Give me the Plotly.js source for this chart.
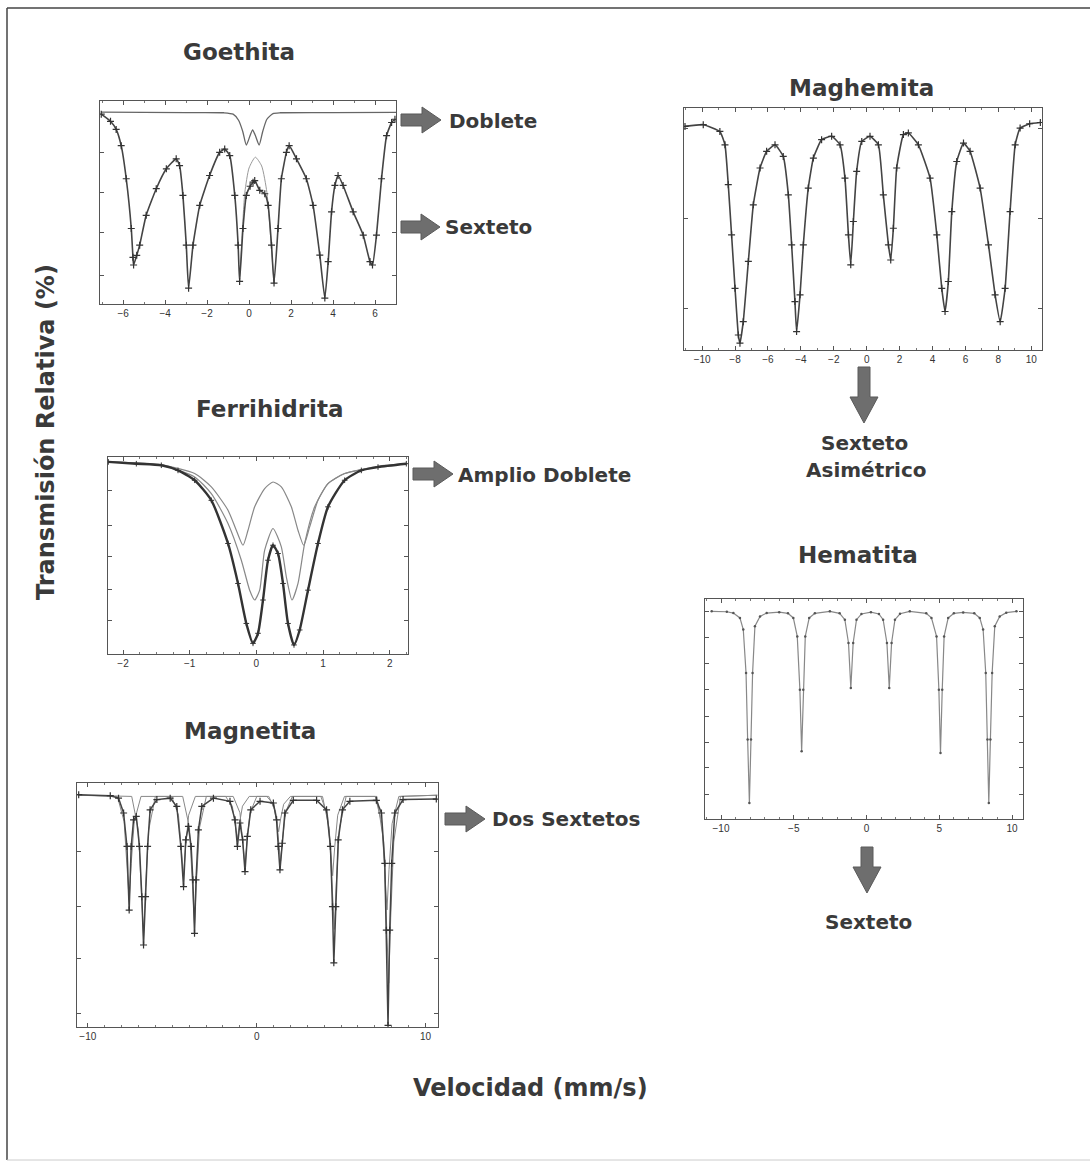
<!DOCTYPE html>
<html>
<head>
<meta charset="utf-8">
<script src="https://cdn.plot.ly/plotly-3.0.1.min.js"></script>
<style>html,body{margin:0;padding:0;background:#fff;}#chart{width:1090px;height:1165px;}</style>
</head>
<body>
<div id="chart"></div>
<script>
// ---------------- DATA (velocity mm/s, relative transmission in plot units) ----------------
// Goethita
const goeDobleteV = [-7.05, -3, -1.2, -0.76, -0.5, -0.3, -0.13, 0.05, 0.17, 0.3, 0.48, 0.65, 0.85, 1.14, 1.5, 4, 7.0];
const goeDobleteT = [94.5, 94.3, 94.2, 93.5, 90.5, 85, 78.3, 83, 85.8, 83, 78.3, 85, 91, 93.8, 94.2, 94.3, 94.4];
const goeSextetoV = [-7.04, -6.6, -6.33, -6.09, -5.85, -5.61, -5.53, -5.5, -5.35, -5.21, -4.9, -4.42, -3.94, -3.47, -3.31, -3.15, -2.99, -2.88, -2.67, -2.35, -1.88, -1.4, -1.16, -0.92, -0.68, -0.52, -0.45, -0.29, -0.13, 0.05, 0.19, 0.27, 0.51, 0.75, 0.91, 1.07, 1.19, 1.38, 1.54, 1.78, 1.91, 2.26, 2.73, 3.05, 3.37, 3.61, 3.77, 3.93, 4.09, 4.24, 4.48, 4.96, 5.44, 5.76, 5.88, 6.07, 6.31, 6.55, 6.79, 6.95];
const goeSextetoT = [93.5, 90, 86, 78, 61.7, 37.2, 23, 19.2, 24, 29, 43.7, 56.8, 66.6, 71.5, 68.2, 53.5, 29, 7.8, 29, 48.6, 63.3, 74.7, 76.3, 73.1, 53.5, 29, 11.1, 37.2, 53.5, 58, 60, 60.8, 56, 54.3, 48.6, 29, 10.3, 37.2, 61.7, 74.7, 78, 71.5, 61.7, 48.6, 24.1, 2.9, 20.9, 45.4, 58.4, 63.3, 58.4, 45.4, 33.9, 20.9, 19.2, 33.9, 61.7, 82.9, 89.4, 91];
const goeAjusteV = [-0.45, -0.35, -0.2, 0.0, 0.3, 0.6, 0.85, 1.05, 1.19];
const goeAjusteT = [11.1, 30, 55, 67, 72.3, 68, 55, 30, 10.3];

// Maghemita
const mghV = [-11.04, -9.93, -8.92, -8.61, -8.41, -8.21, -8.0, -7.8, -7.7, -7.5, -7.19, -6.89, -6.48, -6.08, -5.57, -5.07, -4.76, -4.56, -4.36, -4.26, -4.05, -3.85, -3.55, -3.24, -2.74, -2.13, -1.62, -1.32, -1.11, -0.97, -0.81, -0.61, -0.3, 0.2, 0.71, 1.01, 1.32, 1.46, 1.62, 1.82, 2.23, 2.53, 3.14, 3.85, 4.26, 4.56, 4.76, 4.96, 5.17, 5.47, 5.88, 6.28, 6.89, 7.4, 7.8, 8.11, 8.41, 8.71, 9.02, 9.32, 9.9, 10.55];
const mghT = [92.4, 93.1, 90.3, 84.8, 68.3, 47.6, 25.5, 6.2, 2.8, 11.7, 36.6, 60, 75.2, 82.1, 84.8, 80, 64.1, 43.4, 20, 7.6, 22.8, 43.4, 66.9, 79.3, 86.9, 88.3, 84.8, 71, 47.6, 35.2, 53.1, 73.8, 86.2, 88.3, 84.8, 64.1, 43.4, 37.2, 50.3, 75.2, 89, 89.7, 84.8, 71, 47.6, 25.5, 15.9, 28.3, 57.2, 77.9, 85.5, 82.1, 66.9, 43.4, 22.8, 11.7, 25.5, 57.2, 84.8, 91.7, 93.5, 94];

// Ferrihidrita
const ferTotalV = [-2.22, -1.8, -1.425, -1.175, -0.925, -0.675, -0.425, -0.275, -0.15, -0.05, 0.025, 0.1, 0.175, 0.25, 0.325, 0.4, 0.475, 0.565, 0.65, 0.775, 0.925, 1.075, 1.325, 1.575, 1.825, 2.25];
const ferTotalT = [97.5, 96.6, 95.8, 93.2, 88.2, 78, 56.1, 35.8, 15.5, 5.4, 10.5, 27.4, 47.6, 55.2, 51, 35.8, 15.5, 4.6, 12.2, 32.4, 56.1, 74.7, 88.2, 93.2, 94.9, 96.6];
const ferDobleteV = [-2.22, -1.425, -0.925, -0.675, -0.425, -0.225, -0.1, -0.025, 0.05, 0.125, 0.25, 0.375, 0.45, 0.535, 0.625, 0.725, 0.875, 1.075, 1.325, 1.825, 2.25];
const ferDobleteT = [97.5, 95.8, 89.9, 81.4, 66.2, 47.6, 32.4, 27.4, 32.4, 52.7, 63.7, 54.4, 39.2, 27.4, 35.8, 56.1, 74.7, 86.5, 91.6, 95.3, 96.6];
const ferAmplioV = [-2.22, -1.425, -0.925, -0.675, -0.425, -0.3, -0.2, -0.125, -0.025, 0.125, 0.25, 0.375, 0.525, 0.625, 0.71, 0.8, 0.925, 1.075, 1.325, 1.825, 2.25];
const ferAmplioT = [97.5, 96, 91.6, 84.8, 73, 62.8, 55.2, 62.8, 74.7, 84, 87.3, 84.8, 74.7, 62.8, 55.2, 64.5, 78, 86.5, 91.6, 94.9, 96.6];

// Magnetita (total + two sextets)
const mgtTotalV = [-10.54, -8.67, -8.18, -7.88, -7.68, -7.55, -7.43, -7.29, -7.13, -6.94, -6.8, -6.7, -6.58, -6.46, -6.31, -5.91, -5.12, -4.73, -4.49, -4.33, -4.2, -4.04, -3.88, -3.78, -3.68, -3.59, -3.45, -3.25, -2.56, -1.58, -1.28, -1.14, -0.99, -0.83, -0.69, -0.55, -0.35, 0.2, 0.99, 1.18, 1.28, 1.38, 1.52, 1.67, 2.17, 3.55, 4.14, 4.37, 4.49, 4.57, 4.69, 4.83, 5.08, 5.52, 7.09, 7.39, 7.59, 7.68, 7.78, 7.88, 8.0, 8.18, 8.67, 10.64];
const mgtTotalT = [95.2, 94.8, 93.8, 87.7, 74, 47.9, 74, 84.9, 86.3, 74, 53.4, 33.6, 53.4, 74, 89, 93.2, 93.8, 90.4, 74, 57.5, 76.7, 82.2, 74, 60.3, 38.4, 60.3, 80.8, 90.4, 93.8, 92.5, 84.9, 74, 83.6, 76.7, 63.7, 78.1, 89, 92.5, 91.8, 84.9, 74, 64.4, 75.3, 87.7, 92.9, 92.9, 89, 74, 49.3, 26.3, 49.3, 76.7, 89, 92.5, 92.9, 87.7, 67.1, 39.7, 0.7, 39.7, 67.1, 87.7, 93.2, 93.4];
const mgtSexteto1V = [-10.6, -8.25, -7.85, -7.67, -7.55, -7.43, -7.25, -6.85, -5.03, -4.63, -4.45, -4.33, -4.21, -4.03, -3.63, -1.84, -1.44, -1.26, -1.14, -1.02, -0.84, -0.44, 0.6, 1.0, 1.18, 1.3, 1.42, 1.6, 2.0, 3.8, 4.2, 4.38, 4.5, 4.62, 4.8, 5.2, 7.02, 7.42, 7.6, 7.72, 7.84, 8.02, 8.42, 10.7];
const mgtSexteto1T = [95, 94.5, 84.2, 67, 52, 67, 84.2, 94.5, 94.5, 86.8, 73.5, 62, 73.5, 86.8, 94.5, 94.5, 90.5, 83.3, 77, 83.3, 90.5, 94.5, 94.5, 91.3, 85.3, 80, 85.3, 91.3, 94.5, 94.5, 86.8, 73.5, 62, 73.5, 86.8, 94.5, 94.5, 83.3, 64.5, 48, 64.5, 83.3, 94.5, 95];
const mgtSexteto2V = [-10.6, -7.4, -7.0, -6.82, -6.7, -6.58, -6.4, -6.0, -4.38, -3.98, -3.8, -3.68, -3.56, -3.38, -2.98, -1.39, -0.99, -0.81, -0.69, -0.57, -0.39, 0.01, 0.72, 1.12, 1.3, 1.42, 1.54, 1.72, 2.12, 3.9, 4.3, 4.48, 4.6, 4.72, 4.9, 5.3, 7.12, 7.52, 7.7, 7.82, 7.94, 8.12, 8.52, 10.7];
const mgtSexteto2T = [95, 94.5, 80.5, 57.3, 37, 57.3, 80.5, 94.5, 94.5, 81.8, 60.6, 42, 60.6, 81.8, 94.5, 94.5, 87.8, 76.2, 66, 76.2, 87.8, 94.5, 94.5, 88.3, 77.5, 68, 77.5, 88.3, 94.5, 94.5, 81.3, 59.3, 40, 59.3, 81.3, 94.5, 94.5, 75.8, 45, 18, 45, 75.8, 94.5, 95];

// Hematita
const hemV = [-10.64, -9.6, -9.15, -8.7, -8.47, -8.28, -8.17, -8.05, -7.94, -7.83, -7.67, -7.32, -6.86, -6.0, -5.4, -5.03, -4.76, -4.58, -4.46, -4.35, -4.21, -3.94, -3.55, -2.52, -1.85, -1.49, -1.24, -1.08, -0.92, -0.69, -0.35, 0.3, 0.85, 1.14, 1.4, 1.56, 1.72, 1.95, 2.3, 2.97, 4.1, 4.46, 4.81, 4.97, 5.08, 5.2, 5.33, 5.61, 6.0, 6.64, 7.4, 7.78, 8.01, 8.19, 8.31, 8.4, 8.51, 8.63, 8.81, 9.15, 9.6, 10.3];
const hemT = [94.4, 94.2, 93.6, 91.4, 86.1, 66.4, 36.1, 7.3, 36.1, 66.4, 87.6, 92.1, 93.6, 94, 93.5, 91.4, 83, 58.8, 30.8, 58.8, 83, 91.4, 93.5, 94.4, 93.5, 90.6, 80, 59.5, 80, 90.6, 93.2, 94, 93.2, 90.6, 80, 59.5, 80, 90.6, 93.3, 94.4, 93.5, 91.4, 83, 58.8, 30, 58.8, 83, 91.4, 93.5, 93.9, 93.5, 91.4, 86.1, 66.4, 36.1, 7.3, 36.1, 66.4, 87.6, 92.1, 93.8, 94.4];

// Texts
const panelTitles = ["Goethita", "Maghemita", "Ferrihidrita", "Magnetita", "Hematita"];
const sideLabels = ["Doblete", "Sexteto", "Amplio Doblete", "Dos Sextetos", "Sexteto", "Asimétrico", "Sexteto"];
const xAxisLabel = "Velocidad (mm/s)";
const yAxisLabel = "Transmisión Relativa (%)";

// ---------------- LAYOUT HELPERS ----------------
const W = 1090, H = 1165;
const px = x => x / W;
const py = y => 1 - y / H;
const dark = '#333333';
const textCol = '#3a3a3a';
const big = 'DejaVu Sans, Arial, sans-serif';

function xAx(x0, x1, range, dtick, minor, anchor) {
  return {
    domain: [px(x0), px(x1)], range: range, anchor: anchor,
    showline: true, linecolor: '#555', linewidth: 1, mirror: 'ticks',
    ticks: 'inside', ticklen: 4, tickcolor: '#555', tickwidth: 1,
    dtick: dtick, tick0: 0, showgrid: false, zeroline: false,
    minor: {ticks: 'inside', ticklen: 2, dtick: minor, tickcolor: '#777', showgrid: false},
    tickfont: {family: 'Liberation Sans, Arial, sans-serif', size: 10, color: '#333'},
    fixedrange: true
  };
}
function yAx(y0, y1, tickvals, anchor) {
  return {
    domain: [py(y1), py(y0)], range: [0, 100], anchor: anchor,
    showline: true, linecolor: '#555', linewidth: 1, mirror: 'ticks',
    ticks: 'inside', ticklen: 4, tickcolor: '#555', tickvals: tickvals,
    showticklabels: false, showgrid: false, zeroline: false, fixedrange: true
  };
}

const crossMarker = {symbol: 'cross-thin', size: 5, line: {width: 1.2, color: dark}, color: dark};

const traces = [
  // Goethita
  {x: goeDobleteV, y: goeDobleteT, xaxis: 'x', yaxis: 'y', mode: 'lines', line: {color: '#666', width: 1.3, shape: 'spline', smoothing: 0.6}},
  {x: goeAjusteV, y: goeAjusteT, xaxis: 'x', yaxis: 'y', mode: 'lines', line: {color: '#999', width: 1, shape: 'spline', smoothing: 0.6}},
  {x: goeSextetoV, y: goeSextetoT, xaxis: 'x', yaxis: 'y', mode: 'lines+markers', line: {color: '#444', width: 1.6, shape: 'spline', smoothing: 0.45}, marker: crossMarker},
  // Maghemita
  {x: mghV, y: mghT, xaxis: 'x2', yaxis: 'y2', mode: 'lines+markers', line: {color: '#444', width: 1.6, shape: 'spline', smoothing: 0.4}, marker: crossMarker},
  // Ferrihidrita
  {x: ferAmplioV, y: ferAmplioT, xaxis: 'x3', yaxis: 'y3', mode: 'lines', line: {color: '#888', width: 1.2, shape: 'spline', smoothing: 0.6}},
  {x: ferDobleteV, y: ferDobleteT, xaxis: 'x3', yaxis: 'y3', mode: 'lines', line: {color: '#888', width: 1.2, shape: 'spline', smoothing: 0.6}},
  {x: ferTotalV, y: ferTotalT, xaxis: 'x3', yaxis: 'y3', mode: 'lines+markers', line: {color: '#333', width: 2.4, shape: 'spline', smoothing: 0.6}, marker: {symbol: 'cross-thin', size: 4, line: {width: 1, color: dark}}},
  // Magnetita
  {x: mgtSexteto1V, y: mgtSexteto1T, xaxis: 'x4', yaxis: 'y4', mode: 'lines', line: {color: '#888', width: 1}},
  {x: mgtSexteto2V, y: mgtSexteto2T, xaxis: 'x4', yaxis: 'y4', mode: 'lines', line: {color: '#888', width: 1}},
  {x: mgtTotalV, y: mgtTotalT, xaxis: 'x4', yaxis: 'y4', mode: 'lines+markers', line: {color: '#444', width: 1.5}, marker: crossMarker},
  // Hematita
  {x: hemV, y: hemT, xaxis: 'x5', yaxis: 'y5', mode: 'lines+markers', line: {color: '#888', width: 1.2}, marker: {symbol: 'circle', size: 2.5, color: '#555'}}
];

// Block arrows
function rightArrow(x0, tip, yc) {
  const hb = 6, hh = 13, hl = 19;
  const xb = tip - hl;
  const pts = [[x0, yc - hb], [xb, yc - hb], [xb, yc - hh], [tip, yc], [xb, yc + hh], [xb, yc + hb], [x0, yc + hb]];
  return pts.map((p, i) => (i ? 'L' : 'M') + px(p[0]).toFixed(5) + ',' + py(p[1]).toFixed(5)).join(' ') + ' Z';
}
function downArrow(xc, y0, tip) {
  const hb = 6, hh = 14, hl = 26;
  const yb = tip - hl;
  const pts = [[xc - hb, y0], [xc - hb, yb], [xc - hh, yb], [xc, tip], [xc + hh, yb], [xc + hb, yb], [xc + hb, y0]];
  return pts.map((p, i) => (i ? 'L' : 'M') + px(p[0]).toFixed(5) + ',' + py(p[1]).toFixed(5)).join(' ') + ' Z';
}
const arrowStyle = {type: 'path', xref: 'paper', yref: 'paper', fillcolor: '#6e6e6e', line: {color: '#5a5a5a', width: 1}};
const shapes = [
  Object.assign({path: rightArrow(401, 441, 120)}, arrowStyle),
  Object.assign({path: rightArrow(401, 440, 227)}, arrowStyle),
  Object.assign({path: rightArrow(413, 453, 474)}, arrowStyle),
  Object.assign({path: rightArrow(445, 485, 819)}, arrowStyle),
  Object.assign({path: downArrow(864, 367, 423)}, arrowStyle),
  Object.assign({path: downArrow(867, 847, 893)}, arrowStyle),
  // outer frame
  {type: 'line', xref: 'paper', yref: 'paper', x0: px(7), x1: px(7), y0: py(8), y1: py(1160), line: {color: '#444', width: 1.5}},
  {type: 'line', xref: 'paper', yref: 'paper', x0: px(7), x1: px(1090), y0: py(8), y1: py(8), line: {color: '#444', width: 1.5}},
  {type: 'line', xref: 'paper', yref: 'paper', x0: px(7), x1: px(1090), y0: py(1160), y1: py(1160), line: {color: '#ccc', width: 1}}
];

function ann(text, x, y, size, xanchor, extra) {
  return Object.assign({text: '<b>' + text + '</b>', xref: 'paper', yref: 'paper', x: px(x), y: py(y),
    xanchor: xanchor || 'center', yanchor: 'middle', showarrow: false,
    font: {family: big, size: size, color: textCol}}, extra || {});
}
const annotations = [
  ann(panelTitles[0], 239, 52, 23),
  ann(panelTitles[1], 861, 88, 23),
  ann(panelTitles[2], 269, 409, 23),
  ann(panelTitles[3], 250, 731, 23),
  ann(panelTitles[4], 858, 555, 23),
  ann(sideLabels[0], 447, 121, 20, 'left'),
  ann(sideLabels[1], 443, 227, 20, 'left'),
  ann(sideLabels[2], 456, 475, 20, 'left'),
  ann(sideLabels[3], 490, 819, 20, 'left'),
  ann(sideLabels[4], 864, 443, 20),
  ann(sideLabels[5], 866, 470, 20),
  ann(sideLabels[6], 868, 922, 20),
  ann(xAxisLabel, 530, 1088, 24),
  ann(yAxisLabel, 46, 432, 24, 'center', {textangle: -90})
];

const layout = {
  width: W, height: H, margin: {l: 0, r: 0, t: 0, b: 0},
  paper_bgcolor: '#ffffff', plot_bgcolor: '#ffffff', showlegend: false,
  xaxis:  xAx(100, 396, [-7.1, 7.0], 2, 1, 'y'),
  yaxis:  yAx(101, 304, [14.2, 35.4, 55, 74.7], 'x'),
  xaxis2: xAx(684, 1042, [-11.1, 10.65], 2, 1, 'y2'),
  yaxis2: yAx(108, 350, [17.2, 54.5, 91.7], 'x2'),
  xaxis3: xAx(108, 408, [-2.225, 2.275], 1, 0.25, 'y3'),
  yaxis3: yAx(457, 654, [16.9, 32.8, 49.3, 65.4, 83.1], 'x3'),
  xaxis4: xAx(77, 438, [-10.64, 10.74], 10, 1, 'y4'),
  yaxis4: yAx(783, 1027, [5.5, 28.1, 49.3, 71.9], 'x4'),
  xaxis5: xAx(705, 1023, [-11.1, 10.75], 5, 1, 'y5'),
  yaxis5: yAx(599, 819, [11.1, 23.2, 34.8, 46.7, 58.8, 70.6, 82.6, 94.4], 'x5'),
  shapes: shapes,
  annotations: annotations
};

Plotly.newPlot('chart', traces, layout, {staticPlot: true, displayModeBar: false});
</script>
</body>
</html>
